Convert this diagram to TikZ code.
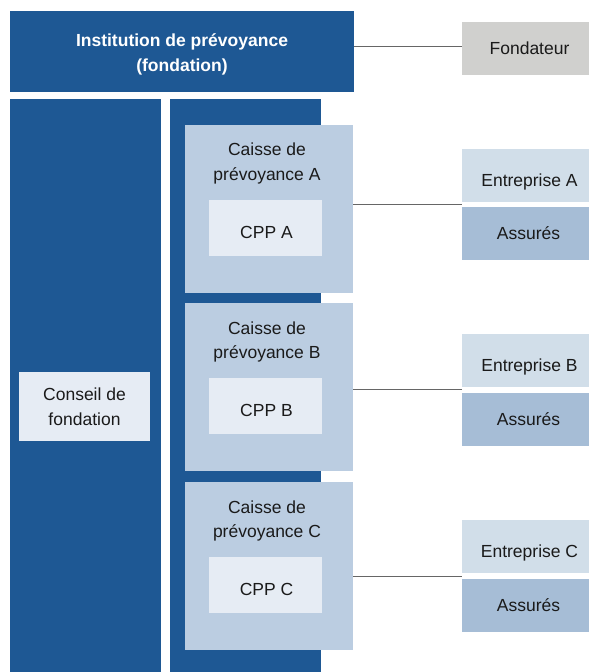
\documentclass[tikz,border=0pt]{standalone}
\usepackage{fontspec}
\setmainfont{Liberation Sans}
\definecolor{darkblue}{HTML}{1E5894}
\definecolor{caissecol}{HTML}{BBCDE1}
\definecolor{cppcol}{HTML}{E6ECF4}
\definecolor{entcol}{HTML}{D1DEE9}
\definecolor{asscol}{HTML}{A6BDD6}
\definecolor{fondcol}{HTML}{D0D0CE}
\definecolor{linecol}{HTML}{666666}
\definecolor{txtcol}{HTML}{1A1A1A}
\begin{document}
\begin{tikzpicture}[x=1pt,y=-1pt,
  box/.style={inner sep=0pt, outer sep=0pt, align=center, text=txtcol,
    font=\fontsize{17.5}{24.5}\selectfont},
  rbox/.style={inner sep=0pt, outer sep=0pt, text=txtcol,
    font=\fontsize{17.5}{24.5}\selectfont, minimum width=127pt, minimum height=53pt},
  dark/.style={box, fill=darkblue},
  caisse/.style={box, fill=caissecol, minimum width=168pt, minimum height=168pt},
  cpp/.style={box, fill=cppcol, minimum width=113pt, minimum height=56pt, text height=20.5pt, text depth=0pt},
  ent/.style={rbox, fill=entcol, text height=21.5pt, text depth=0pt},
  ass/.style={rbox, fill=asscol},
  conn/.style={draw=linecol, line width=1pt}
]
\useasboundingbox (0,0) rectangle (589,672);
% top
\node[dark, minimum width=344pt, minimum height=81pt] (inst) at (182,51.5) {};
\node[box, text=white, font=\bfseries\fontsize{17.5}{25}\selectfont] (instT) at (182,54)
  {Institution de prévoyance\\(fondation)};
\node[rbox, fill=fondcol] (fond) at (525.5,48.5) {\kern8pt Fondateur};
% columns
\node[dark, minimum width=151pt, minimum height=573pt] (colL) at (85.5,385.5) {};
\node[dark, minimum width=151pt, minimum height=573pt] (colR) at (245.5,385.5) {};
\node[box, fill=cppcol, minimum width=131pt, minimum height=69pt] (conseil) at (84.5,406.5) {Conseil de\\fondation};
% caisses
\node[caisse] (caA) at (269,209) {};
\node[caisse] (caB) at (269,387) {};
\node[caisse] (caC) at (269,566) {};
\node[box] (tA) at (267,163.5) {Caisse de\\prévoyance A};
\node[box] (tB) at (267,342) {Caisse de\\prévoyance B};
\node[box] (tC) at (267,521) {Caisse de\\prévoyance C};
\node[cpp] (cppA) at (265.5,228) {\kern2pt CPP A};
\node[cpp] (cppB) at (265.5,406) {\kern2pt CPP B};
\node[cpp] (cppC) at (265.5,585) {\kern2pt CPP C};
% entreprises
\node[ent] (entA) at (525.5,175.5) {\kern8pt Entreprise A};
\node[ass] (assA) at (525.5,233) {\kern6pt Assurés};
\node[ent] (entB) at (525.5,360.5) {\kern8pt Entreprise B};
\node[ass] (assB) at (525.5,419) {\kern6pt Assurés};
\node[ent] (entC) at (525.5,546.5) {\kern8pt Entreprise C};
\node[ass] (assC) at (525.5,605.5) {\kern6pt Assurés};
% connectors
\coordinate (jF) at (462,46.3);
\coordinate (jA) at (462,204.7);
\coordinate (jB) at (462,389.3);
\coordinate (jC) at (462,576);
\draw[conn] (inst.east |- jF) -- (jF);
\draw[conn] (caA.east |- jA) -- (jA);
\draw[conn] (caB.east |- jB) -- (jB);
\draw[conn] (caC.east |- jC) -- (jC);
\end{tikzpicture}
\end{document}
